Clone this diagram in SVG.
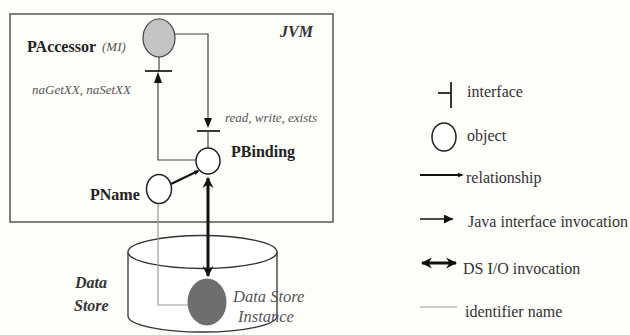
<svg xmlns="http://www.w3.org/2000/svg" width="630" height="335" viewBox="0 0 630 335">
<defs>
<marker id="tri" viewBox="0 0 10 10" refX="10" refY="5" markerWidth="9" markerHeight="9" markerUnits="userSpaceOnUse" orient="auto-start-reverse"><path d="M0,0 L10,5 L0,10 z" fill="#111"/></marker>
<marker id="big" viewBox="0 0 10 10" refX="9" refY="5" markerWidth="11" markerHeight="13" markerUnits="userSpaceOnUse" orient="auto-start-reverse"><path d="M0,0 L10,5 L0,10 L3,5 z" fill="#111"/></marker>
<marker id="dot" viewBox="0 0 10 10" refX="7" refY="5" markerWidth="6" markerHeight="6" markerUnits="userSpaceOnUse" orient="auto"><path d="M0,1 L10,5 L0,9 z" fill="#111"/></marker>
</defs>
<style>
.bg{fill:#fdfdfa}
.box{fill:none;stroke:#555;stroke-width:1.5}
.obj{fill:#fff;stroke:#222;stroke-width:1.5}
.inv{fill:none;stroke:#444;stroke-width:1.2}
.bar{stroke:#222;stroke-width:1.8}
.rel{stroke:#111;stroke-width:2;fill:none}
.io{stroke:#111;stroke-width:3;fill:none}
.idn{stroke:#999;stroke-width:1.2;fill:none}
.cyl{fill:#fff;stroke:#333;stroke-width:1.3}
text{font-family:"Liberation Serif","Times New Roman","DejaVu Serif",serif}
.b{font-weight:bold;font-size:16px;fill:#222}
.i{font-style:italic;font-size:13px;fill:#555}
.bi{font-style:italic;font-weight:bold;font-size:16px;fill:#333}
.lg{font-size:16px;fill:#333}
.di{font-style:italic;font-size:16.5px;fill:#555}
</style>
<rect class="bg" x="0" y="0" width="630" height="335"/>
<g id="jvm">
<rect class="box" x="10" y="14" width="323" height="208"/>
<text class="bi" x="280" y="37">JVM</text>
</g>
<g id="datastore">
<path class="cyl" d="M128,252 L128,316 A74.5,16 0 0 0 277,316 L277,252"/>
<ellipse class="cyl" cx="202.5" cy="252" rx="74.5" ry="16.5"/>
<text class="bi" x="75" y="288">Data</text>
<text class="bi" x="74" y="311">Store</text>
</g>
<g id="connectors">
<polyline class="inv" points="175,34 208,34 208,126"/>
<line class="bar" x1="197" y1="131" x2="220" y2="131"/>
<line class="inv" x1="208" y1="131" x2="208" y2="148"/>
<line class="inv" x1="159" y1="56" x2="159" y2="71"/>
<line class="bar" x1="145" y1="71" x2="172" y2="71"/>
<polyline class="inv" points="197,160 158,160 158,75"/>
<path d="M158,72 L154,83 L162,83 z" fill="#111"/>
<path d="M208,128 L204,118 L212,118 z" fill="#111"/>
<line class="rel" x1="171" y1="184" x2="198" y2="171" marker-end="url(#dot)"/>
<line class="io" x1="208" y1="178" x2="208" y2="276" marker-start="url(#big)" marker-end="url(#big)"/>
<polyline class="idn" points="158,204 158,305 190,305"/>
</g>
<g id="paccessor">
<ellipse cx="159" cy="38" rx="16" ry="19" fill="#c4c4c4" stroke="#444" stroke-width="1.2"/>
<text class="b" x="27" y="52" font-size="14.5">PAccessor</text>
<text class="i" x="102" y="51" font-size="11">(MI)</text>
<text class="i" x="32" y="94">naGetXX, naSetXX</text>
</g>
<g id="pbinding">
<ellipse class="obj" cx="208" cy="161" rx="12" ry="13"/>
<text class="b" x="231" y="157">PBinding</text>
<text class="i" x="225" y="122">read, write, exists</text>
</g>
<g id="pname">
<ellipse class="obj" cx="159" cy="189" rx="12.5" ry="14.5"/>
<text class="b" x="90" y="200">PName</text>
</g>
<g id="instance">
<ellipse cx="207" cy="302" rx="19.5" ry="23.5" fill="#6e6e6e"/>
<text class="di" x="233" y="302">Data Store</text>
<text class="di" x="238" y="322">Instance</text>
</g>
<g id="legend">
<line class="bar" x1="451" y1="82" x2="451" y2="108"/>
<line class="bar" x1="438" y1="93" x2="451" y2="93"/>
<text class="lg" x="467" y="97">interface</text>
<ellipse class="obj" cx="444" cy="137" rx="12" ry="14"/>
<text class="lg" x="467" y="141">object</text>
<line class="rel" x1="420" y1="175" x2="462" y2="175" marker-end="url(#dot)"/>
<text class="lg" x="466" y="183">relationship</text>
<line x1="420" y1="219" x2="453" y2="219" stroke="#111" stroke-width="1.5" marker-end="url(#tri)"/>
<text class="lg" x="468" y="227">Java interface invocation</text>
<line class="io" x1="422" y1="263" x2="456" y2="263" marker-start="url(#big)" marker-end="url(#big)"/>
<text class="lg" x="463" y="274">DS I/O invocation</text>
<line class="idn" x1="420" y1="307" x2="457" y2="307"/>
<text class="lg" x="465" y="317">identifier name</text>
</g>
</svg>
